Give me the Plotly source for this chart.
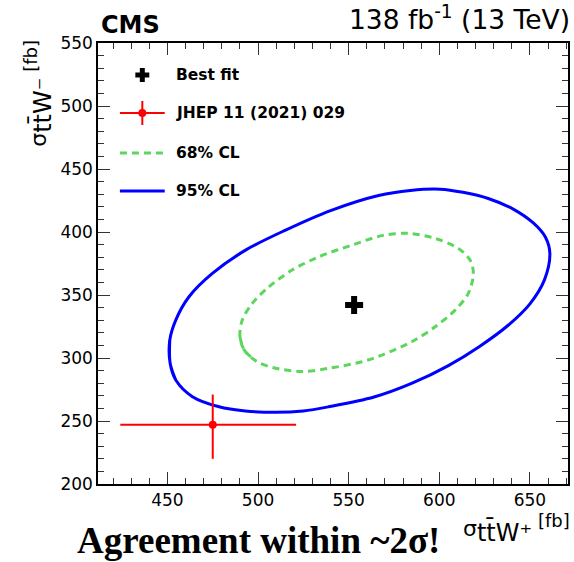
import plotly.graph_objects as go

# ---------------- data ----------------
best_fit_x = [553.0]
best_fit_y = [342.0]

jhep_x = [475.0]
jhep_y = [247.0]
jhep_x_err_minus = [51.0]
jhep_x_err_plus = [46.0]
jhep_y_err_minus = [27.0]
jhep_y_err_plus = [24.0]

# 95% CL contour (closed, first points repeated at the end for a smooth join)
cl95_x = [451.3, 451.5, 454.6, 463.8, 478.5, 493.0, 509.7, 525.0, 539.0, 564.0,
          585.0, 605.0, 622.0, 638.0, 650.0, 658.0, 661.0, 658.5, 652.0, 641.0,
          627.0, 613.0, 600.5, 584.0, 566.5, 540.0, 515.2, 493.1, 474.8, 461.9,
          454.6, 451.3, 451.5, 454.6]
cl95_y = [314.2, 295.8, 282.5, 269.3, 261.3, 258.0, 256.9, 258.0, 261.3, 269.0,
          280.0, 294.0, 309.0, 326.0, 343.0, 362.0, 383.0, 396.0, 407.0, 418.0,
          426.6, 431.5, 434.0, 433.0, 429.0, 417.0, 401.5, 385.6, 367.1, 348.6,
          330.1, 314.2, 295.8, 282.5]

# 68% CL contour
cl68_x = [490.0, 492.5, 499.0, 508.0, 524.3, 539.0, 557.3, 568.3, 584.8, 597.7,
          608.7, 616.0, 618.8, 617.0, 610.5, 597.7, 583.0, 569.0, 551.8, 533.5,
          518.8, 506.0, 496.8, 491.3, 490.0, 492.5, 499.0]
cl68_y = [316.9, 306.0, 297.5, 292.5, 289.3, 291.8, 297.0, 302.3, 312.9, 324.8,
          338.0, 351.3, 367.1, 377.7, 387.0, 394.9, 398.9, 397.3, 389.6, 380.3,
          369.8, 356.5, 343.3, 330.1, 316.9, 306.0, 297.5]

legend_labels = ["Best fit", "JHEP 11 (2021) 029", "68% CL", "95% CL"]

x_range = [411.7, 671.0]
y_range = [200.0, 550.0]

# ---------------- styles ----------------
BLUE = "#0000ff"
GREEN = "#5cd65c"
RED = "#ff0000"
FONT = "DejaVu Sans"

W, H = 574, 562
ML, MR, MT, MB = 98, 4, 43, 78
PW = W - ML - MR
PH = H - MT - MB


def px(xp):
    return (xp - ML) / PW


def py(yp):
    return (H - MB - yp) / PH


fig = go.Figure()

fig.add_trace(go.Scatter(x=cl95_x, y=cl95_y, mode="lines",
                         line=dict(color=BLUE, width=3, shape="spline", smoothing=0.9),
                         showlegend=False, hoverinfo="skip"))
fig.add_trace(go.Scatter(x=cl68_x, y=cl68_y, mode="lines",
                         line=dict(color=GREEN, width=3, dash="7px,5px", shape="spline", smoothing=0.9),
                         showlegend=False, hoverinfo="skip"))
fig.add_trace(go.Scatter(x=jhep_x, y=jhep_y, mode="markers",
                         marker=dict(color=RED, size=8),
                         error_x=dict(type="data", symmetric=False, array=jhep_x_err_plus,
                                      arrayminus=jhep_x_err_minus, color=RED, thickness=2, width=0),
                         error_y=dict(type="data", symmetric=False, array=jhep_y_err_plus,
                                      arrayminus=jhep_y_err_minus, color=RED, thickness=2, width=0),
                         showlegend=False))
fig.add_trace(go.Scatter(x=best_fit_x, y=best_fit_y, mode="markers",
                         marker=dict(color="black", size=15, symbol="cross",
                                     line=dict(width=0)),
                         showlegend=False))

axis_common = dict(
    showline=True, linecolor="black", linewidth=1.5, mirror="ticks",
    ticks="inside", ticklen=12, tickwidth=1.2, tickcolor="#333333",
    dtick=50, showgrid=False, zeroline=False,
    tickfont=dict(family=FONT, size=17, color="black"),
    minor=dict(dtick=10, ticks="inside", ticklen=6, tickwidth=1.2, tickcolor="#333333", showgrid=False),
)
fig.update_xaxes(range=x_range, tick0=450, **axis_common)
fig.update_yaxes(range=y_range, tick0=200, **axis_common)

shapes = []
ann = []

# legend (drawn manually)
leg_y = [75, 113, 153, 191]
x0, x1, xm = 120, 165, 142.5
shapes.append(dict(type="rect", xref="paper", yref="paper",
                   x0=px(xm - 7), x1=px(xm + 7), y0=py(leg_y[0] + 2.5), y1=py(leg_y[0] - 2.5),
                   fillcolor="black", line=dict(width=0)))
shapes.append(dict(type="rect", xref="paper", yref="paper",
                   x0=px(xm - 2.5), x1=px(xm + 2.5), y0=py(leg_y[0] + 7), y1=py(leg_y[0] - 7),
                   fillcolor="black", line=dict(width=0)))
shapes.append(dict(type="line", xref="paper", yref="paper",
                   x0=px(x0), x1=px(x1), y0=py(leg_y[1]), y1=py(leg_y[1]),
                   line=dict(color=RED, width=2)))
shapes.append(dict(type="line", xref="paper", yref="paper",
                   x0=px(xm), x1=px(xm), y0=py(leg_y[1] - 12), y1=py(leg_y[1] + 12),
                   line=dict(color=RED, width=2)))
shapes.append(dict(type="circle", xref="paper", yref="paper",
                   x0=px(xm - 4), x1=px(xm + 4), y0=py(leg_y[1] + 4), y1=py(leg_y[1] - 4),
                   fillcolor=RED, line=dict(width=0)))
shapes.append(dict(type="line", xref="paper", yref="paper",
                   x0=px(x0), x1=px(x1), y0=py(leg_y[2]), y1=py(leg_y[2]),
                   line=dict(color=GREEN, width=3, dash="7px,5px")))
shapes.append(dict(type="line", xref="paper", yref="paper",
                   x0=px(x0), x1=px(x1), y0=py(leg_y[3]), y1=py(leg_y[3]),
                   line=dict(color=BLUE, width=3)))

for lab, yy in zip(legend_labels, leg_y):
    ann.append(dict(text="<b>%s</b>" % lab, xref="paper", yref="paper",
                    x=px(174), y=py(yy), xanchor="left", yanchor="middle",
                    showarrow=False, font=dict(family=FONT, size=15.5, color="black")))

# CMS and lumi
ann.append(dict(text="<b>CMS</b>", xref="paper", yref="paper", x=px(99), y=py(41),
                xanchor="left", yanchor="bottom", showarrow=False,
                font=dict(family=FONT, size=24, color="black")))
ann.append(dict(text="138 fb<sup>-1</sup> (13 TeV)", xref="paper", yref="paper", x=px(574), y=py(37),
                xanchor="right", yanchor="bottom", showarrow=False,
                font=dict(family=FONT, size=26.5, color="black")))

# axis titles
ytitle = ("σ<sub><span style='font-size:24px'>tt̄W⁻</span></sub>"
          "<sup><span style='font-size:18px'> [fb]</span></sup>")
xtitle = ("σ<sub><span style='font-size:24px'>tt̄W⁺</span></sub>"
          "<sup><span style='font-size:18px'> [fb]</span></sup>")
ann.append(dict(text=ytitle, xref="paper", yref="paper",
                x=px(38), y=py(38), xanchor="center", yanchor="top", textangle=-90,
                showarrow=False, font=dict(family=FONT, size=22, color="black")))
ann.append(dict(text=xtitle, xref="paper", yref="paper",
                x=px(574), y=py(508), xanchor="right", yanchor="top",
                showarrow=False, font=dict(family=FONT, size=22, color="black")))

# slide caption
ann.append(dict(text="<b>Agreement within ~2σ!</b>", xref="paper", yref="paper",
                x=px(259), y=py(563), xanchor="center", yanchor="bottom",
                showarrow=False, font=dict(family="Liberation Serif", size=37, color="black")))

fig.update_layout(
    width=W, height=H,
    margin=dict(l=ML, r=MR, t=MT, b=MB),
    paper_bgcolor="white", plot_bgcolor="white",
    shapes=shapes, annotations=ann, showlegend=False,
)

fig.write_html("out.html")
